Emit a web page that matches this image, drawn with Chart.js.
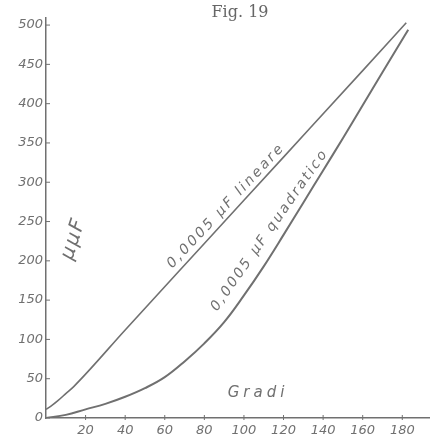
<!DOCTYPE html>
<html>
<head>
<meta charset="utf-8">
<script src="https://cdn.jsdelivr.net/npm/chart.js@4"></script>
<style>
  html, body { margin: 0; padding: 0; background: #ffffff; }
  #wrap { width: 430px; height: 440px; }
</style>
</head>
<body>
<div id="wrap"><canvas id="myChart" width="430" height="440"></canvas></div>
<script>
// values (gradi -> μμF)
const gradiLin = [0, 3, 6, 10, 14, 40, 80, 120, 160, 182];
const lineare = [11, 16, 22, 31, 40, 112, 222, 332, 442, 503];

const gradiQuad = [0, 10, 20, 30, 40, 50, 60, 70, 80, 90, 100, 110, 120, 130, 140, 150, 160, 170, 183];
const quadratico = [0, 4, 11, 18, 27, 38, 52, 72, 95, 122, 156, 193, 233, 274, 315, 356, 398, 440, 494];

const xTicks = [20, 40, 60, 80, 100, 120, 140, 160, 180];
const yTicks = [0, 50, 100, 150, 200, 250, 300, 350, 400, 450, 500];

const ink = "#707070";
const font = "'DejaVu Sans', sans-serif";

const toPoints = (xs, ys) => xs.map((x, i) => ({ x: x, y: ys[i] }));

// labels written on the drawing
const notes = {
  id: "notes",
  afterDraw(chart) {
    const ctx = chart.ctx;
    const xs = chart.scales.x;
    const ys = chart.scales.y;
    ctx.save();
    ctx.fillStyle = ink;
    ctx.strokeStyle = ink;

    // little tick marks on the axes
    ctx.lineWidth = 1;
    yTicks.forEach((v) => {
      const py = ys.getPixelForValue(v);
      ctx.beginPath();
      ctx.moveTo(xs.left, py);
      ctx.lineTo(xs.left + 4, py);
      ctx.stroke();
    });
    xTicks.forEach((v) => {
      const px = xs.getPixelForValue(v);
      ctx.beginPath();
      ctx.moveTo(px, ys.bottom + 2);
      ctx.lineTo(px, ys.bottom - 3);
      ctx.stroke();
    });

    ctx.textAlign = "center";
    ctx.textBaseline = "middle";

    ctx.fillStyle = "#666";
    ctx.font = "16px 'DejaVu Serif', serif";
    ctx.fillText("Fig. 19", 240, 13);

    ctx.fillStyle = ink;
    ctx.font = "italic 15px " + font;
    ctx.letterSpacing = "4px";
    ctx.fillText("Gradi", 258, 393);

    const label = (text, gx, gy, deg, size, spacing) => {
      ctx.save();
      ctx.translate(xs.getPixelForValue(gx), ys.getPixelForValue(gy));
      ctx.rotate((-deg * Math.PI) / 180);
      ctx.font = "italic " + size + "px " + font;
      ctx.letterSpacing = spacing;
      ctx.fillText(text, 0, 0);
      ctx.restore();
    };
    label("μμF", 14, 228, 72, 20, "2px");
    label("0,0005 μF lineare", 91, 270, 47, 14, "2.5px");
    label("0,0005 μF quadratico", 113, 239, 55, 14, "2.2px");
    ctx.restore();
  },
};

const ctx = document.getElementById("myChart").getContext("2d");
const myChart = new Chart(ctx, {
  type: "scatter",
  data: {
    datasets: [
      {
        label: "0,0005 μF lineare",
        data: toPoints(gradiLin, lineare),
        showLine: true,
        borderColor: ink,
        borderWidth: 1.6,
        pointRadius: 0,
        cubicInterpolationMode: "monotone",
      },
      {
        label: "0,0005 μF quadratico",
        data: toPoints(gradiQuad, quadratico),
        showLine: true,
        borderColor: ink,
        borderWidth: 2,
        pointRadius: 0,
        tension: 0.4,
      },
    ],
  },
  options: {
    responsive: false,
    animation: false,
    layout: { padding: { top: 18, right: 0, left: 0, bottom: 0 } },
    plugins: {
      legend: { display: false },
      tooltip: { enabled: false },
    },
    scales: {
      x: {
        type: "linear",
        min: 0,
        max: 194,
        afterBuildTicks: (scale) => {
          scale.ticks = xTicks.map((v) => ({ value: v }));
        },
        afterFit: (scale) => {
          scale.height = 22;
        },
        grid: { display: false, drawTicks: false },
        border: { display: true, color: ink, width: 1.5 },
        ticks: {
          color: ink,
          padding: 5,
          font: { family: font, style: "italic", size: 13 },
        },
      },
      y: {
        min: 0,
        max: 509,
        afterBuildTicks: (scale) => {
          scale.ticks = yTicks.map((v) => ({ value: v }));
        },
        afterFit: (scale) => {
          scale.width = 46;
        },
        grid: { display: false, drawTicks: false },
        border: { display: true, color: ink, width: 1.5 },
        ticks: {
          color: ink,
          padding: 3,
          font: { family: font, style: "italic", size: 13 },
        },
      },
    },
  },
  plugins: [notes],
});
</script>
</body>
</html>
